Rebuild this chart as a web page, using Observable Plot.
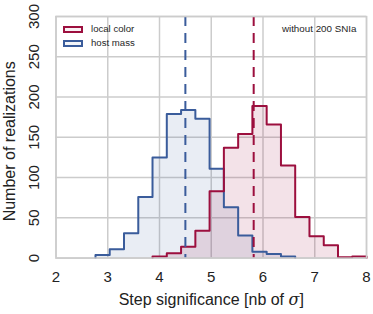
<!DOCTYPE html>
<html>
<head>
<meta charset="utf-8">
<script src="https://cdn.jsdelivr.net/npm/d3@7"></script>
<script src="https://cdn.jsdelivr.net/npm/@observablehq/plot@0.6"></script>
<style>
  html, body { margin: 0; padding: 0; background: #fff; }
  #wrap { position: relative; width: 373px; height: 314px; font-family: "Liberation Sans", Arial, sans-serif; }
  .leg { position: absolute; font-size: 9.6px; color: #262626; }
  .sw { position: absolute; width: 20px; height: 7px; box-sizing: border-box; border: 2px solid; }
</style>
</head>
<body>
<div id="wrap"></div>
<script>
// Bin edges (lower edges of 19 bins plus final right edge)
const edges = [2.763, 3.038, 3.314, 3.590, 3.865, 4.141, 4.417, 4.693, 4.968, 5.244,
               5.520, 5.795, 6.071, 6.347, 6.622, 6.898, 7.174, 7.449, 7.725, 8.000];
// Counts per bin (null = no bin drawn)
const hostMass   = [4, 11, 31, 76, 125, 179, 184, 173, 111, 63, 28, 8, 5, 2, null, null, null, null, null];
const localColor = [null, null, null, null, 2, 6, 14, 34, 83, 137, 154, 189, 166, 115, 51, 27, 16, 1, 2];
// Mean significance (dashed lines)
const hostMean = 4.50;
const colorMean = 5.82;
const seriesNames = ["local color", "host mass"];
const colors = {"local color": "#9c0f3e", "host mass": "#3a5c9b"};
const xTicks = [2, 3, 4, 5, 6, 7, 8];
const yTicks = [0, 50, 100, 150, 200, 250, 300];
const xLabel = "Step significance [nb of σ]";
const yLabel = "Number of realizations";
const note = "without 200 SNIa";

function stepPoints(counts, name) {
  const pts = [];
  let first = true, lastHi = null;
  counts.forEach((c, i) => {
    if (c == null) return;
    const lo = edges[i], hi = edges[i + 1];
    if (first) { pts.push({x: lo, y: 0, s: name}); first = false; }
    pts.push({x: lo, y: c, s: name});
    pts.push({x: hi, y: c, s: name});
    lastHi = hi;
  });
  pts.push({x: lastHi, y: 0, s: name});
  return pts;
}
const bluePts = stepPoints(hostMass, "host mass");
const redPts = stepPoints(localColor, "local color");

const grid = "#cccccc";
const plot = Plot.plot({
  width: 373,
  height: 314,
  marginLeft: 55.5,
  marginRight: 7,
  marginTop: 16,
  marginBottom: 56.4,
  style: {fontFamily: "'Liberation Sans', Arial, sans-serif", background: "white", color: "#262626"},
  x: {domain: [2, 8], axis: null},
  y: {domain: [0, 300], axis: null},
  marks: [
    Plot.ruleX(xTicks, {x: d => d, stroke: grid, strokeWidth: 1.5}),
    Plot.ruleY(yTicks, {y: d => d, stroke: grid, strokeWidth: 1.5}),
    Plot.area(bluePts, {x1: "x", y1: 0, y2: "y", fill: colors["host mass"], fillOpacity: 0.11}),
    Plot.area(redPts, {x1: "x", y1: 0, y2: "y", fill: colors["local color"], fillOpacity: 0.12}),
    Plot.line(bluePts, {x: "x", y: "y", stroke: colors["host mass"], strokeWidth: 2}),
    Plot.line(redPts, {x: "x", y: "y", stroke: colors["local color"], strokeWidth: 2}),
    Plot.ruleX([hostMean], {x: d => d, stroke: colors["host mass"], strokeWidth: 2, strokeDasharray: "10,7"}),
    Plot.ruleX([colorMean], {x: d => d, stroke: colors["local color"], strokeWidth: 2, strokeDasharray: "10,7"}),
    Plot.frame({stroke: grid, strokeWidth: 1.5}),
    Plot.text(xTicks, {x: d => d, text: d => String(d), frameAnchor: "bottom", dy: 13, lineAnchor: "top", fontSize: 15, fill: "#222"}),
    Plot.text(yTicks, {y: d => d, text: d => String(d), frameAnchor: "left", dx: -22, rotate: -90, textAnchor: "middle", lineAnchor: "middle", fontSize: 15, fill: "#222"}),
    Plot.text([xLabel], {text: d => d, frameAnchor: "bottom", dy: 47, lineAnchor: "bottom", fontSize: 16, fill: "#222"}),
    Plot.text([yLabel], {text: d => d, frameAnchor: "left", dx: -46, dy: 4, rotate: -90, textAnchor: "middle", lineAnchor: "middle", fontSize: 16, fill: "#222"}),
    Plot.text([note], {text: d => d, frameAnchor: "top-right", dx: -10, dy: 12, textAnchor: "end", lineAnchor: "middle", fontSize: 9.8, fill: "#262626"})
  ]
});

// italic sigma as in the original mathtext label
d3.select(plot).selectAll("text").each(function() {
  const t = this.textContent;
  if (t === xLabel) {
    const el = d3.select(this);
    el.text(null);
    el.append("tspan").text("Step significance [nb of ");
    el.append("tspan").attr("font-style", "italic").attr("font-family", "'DejaVu Serif', serif").text("σ");
    el.append("tspan").text("]");
  }
});

const wrap = document.getElementById("wrap");
wrap.appendChild(plot);
// Legend (inside the frame, top left)
const legendTop = [26, 40];
seriesNames.forEach((name, i) => {
  const sw = document.createElement("div");
  sw.className = "sw";
  sw.style.left = "63px";
  sw.style.top = legendTop[i] + "px";
  sw.style.borderColor = colors[name];
  sw.style.background = name === "local color" ? "rgba(156,15,62,0.06)" : "rgba(58,92,155,0.06)";
  wrap.appendChild(sw);
  const tx = document.createElement("div");
  tx.className = "leg";
  tx.style.left = "91px";
  tx.style.top = (legendTop[i] - 3) + "px";
  tx.textContent = name;
  wrap.appendChild(tx);
});
</script>
</body>
</html>
